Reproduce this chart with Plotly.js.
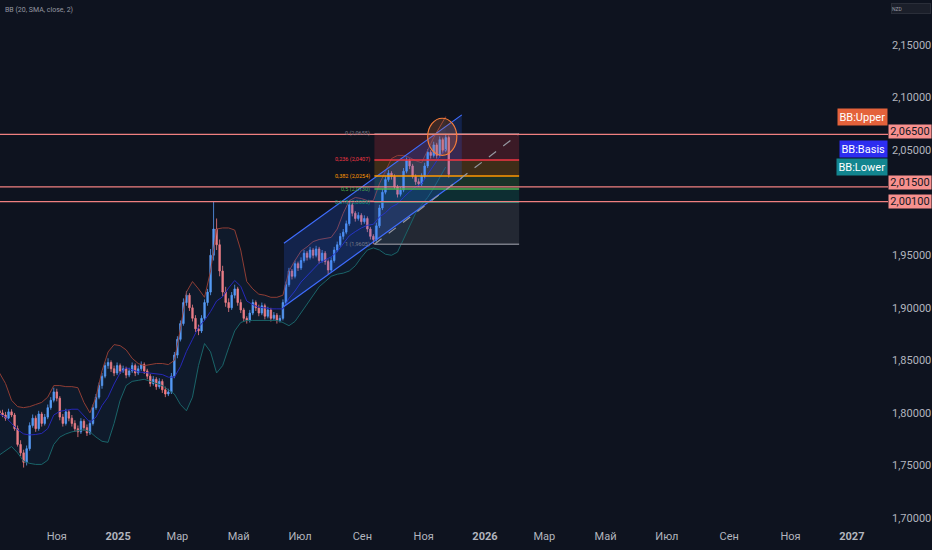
<!DOCTYPE html>
<html><head><meta charset="utf-8">
<script src="https://cdn.plot.ly/plotly-3.0.1.min.js"></script>
<style>html,body{margin:0;padding:0;background:#0e131f;}#chart{width:932px;height:550px;}</style>
</head><body><div id="chart"></div>
<script>
// ---- data (EUR/NZD style daily series, sampled every 3 days) ----
const candleStart = '2024-09-05';
const candleStepDays = 3;
const bandStepDays = 6;

const openP = [1.8020,1.8000,1.7980,1.7950,1.8010,1.7980,1.7850,1.7700,1.7620,1.7530,
1.7660,1.7880,1.7950,1.7850,1.7990,1.7900,1.7960,1.8050,1.8120,1.8200,
1.8140,1.7960,1.7900,1.8010,1.7950,1.7900,1.7850,1.7820,1.7920,1.7860,
1.7810,1.7900,1.8050,1.8150,1.8260,1.8350,1.8450,1.8480,1.8420,1.8380,
1.8450,1.8400,1.8420,1.8360,1.8400,1.8450,1.8380,1.8420,1.8460,1.8400,
1.8350,1.8280,1.8320,1.8250,1.8300,1.8220,1.8180,1.8200,1.8350,1.8550,
1.8700,1.8850,1.9050,1.9120,1.9000,1.8900,1.8800,1.8780,1.8900,1.9050,
1.9150,1.9500,1.9750,1.9600,1.9350,1.9150,1.9050,1.9000,1.9120,1.9180,
1.9050,1.8980,1.8900,1.8880,1.8950,1.9050,1.9000,1.8950,1.9020,1.8920,
1.8980,1.8900,1.8930,1.8880,1.8900,1.9050,1.9220,1.9350,1.9300,1.9420,
1.9380,1.9450,1.9520,1.9480,1.9550,1.9500,1.9560,1.9450,1.9520,1.9440,
1.9360,1.9450,1.9550,1.9600,1.9680,1.9720,1.9800,1.9980,1.9900,1.9850,
1.9880,1.9820,1.9850,1.9750,1.9680,1.9650,1.9780,1.9950,2.0100,2.0220,
2.0280,2.0250,2.0150,2.0080,2.0120,2.0300,2.0400,2.0350,2.0250,2.0200,
2.0180,2.0250,2.0350,2.0480,2.0450,2.0550,2.0450,2.0600,2.0500,2.0620];

const highP = [1.8045,1.8030,1.8010,1.8040,1.8035,1.8000,1.7880,1.7740,1.7650,1.7690,
1.7910,1.7985,1.7975,1.8020,1.8010,1.7990,1.8080,1.8150,1.8240,1.8230,
1.8160,1.7990,1.8040,1.8030,1.7980,1.7930,1.7880,1.7950,1.7940,1.7890,
1.7930,1.8080,1.8180,1.8290,1.8380,1.8480,1.8520,1.8500,1.8450,1.8480,
1.8470,1.8450,1.8440,1.8430,1.8480,1.8470,1.8450,1.8490,1.8480,1.8420,
1.8370,1.8350,1.8340,1.8330,1.8320,1.8250,1.8230,1.8380,1.8580,1.8730,
1.8880,1.9090,1.9160,1.9140,1.9030,1.8930,1.8840,1.8930,1.9080,1.9180,
1.9560,2.0010,1.9850,1.9650,1.9400,1.9200,1.9090,1.9150,1.9220,1.9200,
1.9080,1.9000,1.8920,1.8980,1.9080,1.9070,1.9030,1.9050,1.9040,1.9010,
1.9000,1.8960,1.8950,1.8930,1.9080,1.9250,1.9380,1.9370,1.9450,1.9440,
1.9480,1.9550,1.9540,1.9580,1.9570,1.9590,1.9580,1.9550,1.9540,1.9460,
1.9480,1.9580,1.9630,1.9710,1.9750,1.9830,2.0020,2.0000,1.9920,1.9910,
1.9900,1.9880,1.9870,1.9770,1.9700,1.9810,1.9980,2.0130,2.0250,2.0310,
2.0300,2.0270,2.0170,2.0150,2.0330,2.0430,2.0420,2.0370,2.0270,2.0230,
2.0280,2.0380,2.0510,2.0500,2.0580,2.0570,2.0630,2.0620,2.0655,2.0640];

const lowP = [1.7975,1.7960,1.7925,1.7940,1.7960,1.7830,1.7680,1.7590,1.7480,1.7500,
1.7640,1.7860,1.7820,1.7830,1.7870,1.7880,1.7940,1.8030,1.8100,1.8110,
1.7930,1.7870,1.7880,1.7920,1.7870,1.7820,1.7770,1.7800,1.7830,1.7780,
1.7790,1.7880,1.8030,1.8130,1.8230,1.8330,1.8420,1.8390,1.8350,1.8360,
1.8370,1.8380,1.8330,1.8340,1.8380,1.8350,1.8360,1.8400,1.8370,1.8320,
1.8250,1.8260,1.8220,1.8230,1.8190,1.8150,1.8160,1.8180,1.8330,1.8520,
1.8680,1.8830,1.9020,1.8970,1.8870,1.8770,1.8740,1.8760,1.8880,1.9020,
1.9120,1.9450,1.9550,1.9300,1.9110,1.9010,1.8960,1.8980,1.9090,1.9020,
1.8950,1.8870,1.8850,1.8860,1.8930,1.8970,1.8920,1.8930,1.8890,1.8900,
1.8870,1.8880,1.8850,1.8860,1.8880,1.9030,1.9200,1.9270,1.9280,1.9350,
1.9360,1.9430,1.9450,1.9460,1.9470,1.9480,1.9420,1.9430,1.9410,1.9320,
1.9340,1.9430,1.9530,1.9580,1.9650,1.9700,1.9780,1.9870,1.9820,1.9830,
1.9790,1.9800,1.9720,1.9650,1.9605,1.9630,1.9760,1.9930,2.0080,2.0200,
2.0220,2.0130,2.0050,2.0060,2.0100,2.0280,2.0320,2.0230,2.0170,2.0150,
2.0160,2.0230,2.0330,2.0420,2.0430,2.0420,2.0430,2.0470,2.0480,2.0240];

const closeP = [1.8000,1.7980,1.7950,1.8010,1.7980,1.7850,1.7700,1.7620,1.7530,1.7660,
1.7880,1.7950,1.7850,1.7990,1.7900,1.7960,1.8050,1.8120,1.8200,1.8140,
1.7960,1.7900,1.8010,1.7950,1.7900,1.7850,1.7820,1.7920,1.7860,1.7810,
1.7900,1.8050,1.8150,1.8260,1.8350,1.8450,1.8480,1.8420,1.8380,1.8450,
1.8400,1.8420,1.8360,1.8400,1.8450,1.8380,1.8420,1.8460,1.8400,1.8350,
1.8280,1.8320,1.8250,1.8300,1.8220,1.8180,1.8200,1.8350,1.8550,1.8700,
1.8850,1.9050,1.9120,1.9000,1.8900,1.8800,1.8780,1.8900,1.9050,1.9150,
1.9500,1.9750,1.9600,1.9350,1.9150,1.9050,1.9000,1.9120,1.9180,1.9050,
1.8980,1.8900,1.8880,1.8950,1.9050,1.9000,1.8950,1.9020,1.8920,1.8980,
1.8900,1.8930,1.8880,1.8900,1.9050,1.9220,1.9350,1.9300,1.9420,1.9380,
1.9450,1.9520,1.9480,1.9550,1.9500,1.9560,1.9450,1.9520,1.9440,1.9360,
1.9450,1.9550,1.9600,1.9680,1.9720,1.9800,1.9980,1.9900,1.9850,1.9880,
1.9820,1.9850,1.9750,1.9680,1.9650,1.9780,1.9950,2.0100,2.0220,2.0280,
2.0250,2.0150,2.0080,2.0120,2.0300,2.0400,2.0350,2.0250,2.0200,2.0180,
2.0250,2.0350,2.0480,2.0450,2.0550,2.0450,2.0600,2.0500,2.0620,2.0270];

// Bollinger Bands (20, SMA, close, 2), every 6 days
const bbUpper = [1.838,1.828,1.812,1.806,1.805,1.806,1.808,1.810,1.815,1.826,
1.826,1.825,1.825,1.824,1.810,1.800,1.815,1.840,1.858,1.865,
1.864,1.860,1.852,1.847,1.845,1.846,1.847,1.847,1.846,1.850,
1.880,1.915,1.925,1.918,1.910,1.935,1.975,1.976,1.976,1.974,
1.955,1.925,1.918,1.913,1.912,1.910,1.910,1.912,1.935,1.945,
1.954,1.958,1.963,1.965,1.966,1.967,1.975,1.990,2.002,2.005,
2.004,2.002,2.002,2.018,2.030,2.042,2.045,2.045,2.043,2.040,
2.038,2.050,2.062,2.072,2.082];
const bbBasis = [1.799,1.796,1.790,1.784,1.780,1.779,1.7795,1.7805,1.785,1.798,
1.8015,1.8025,1.8035,1.8035,1.797,1.791,1.796,1.807,1.815,1.8275,
1.838,1.843,1.841,1.839,1.8385,1.838,1.8375,1.8365,1.834,1.834,
1.844,1.8585,1.870,1.8815,1.888,1.8965,1.9065,1.9105,1.919,1.926,
1.9205,1.9065,1.903,1.9005,1.900,1.899,1.899,1.899,1.909,1.916,
1.9245,1.9305,1.9375,1.9425,1.9455,1.9485,1.9535,1.9615,1.9685,1.9725,
1.976,1.9785,1.9795,1.9865,1.9905,1.996,1.999,2.005,2.0105,2.015,
2.018,2.027,2.036,2.044,2.051];
const bbLower = [1.760,1.764,1.768,1.762,1.754,1.752,1.751,1.751,1.755,1.770,
1.777,1.780,1.782,1.783,1.784,1.782,1.777,1.773,1.772,1.790,
1.812,1.826,1.830,1.831,1.832,1.830,1.828,1.826,1.822,1.818,
1.808,1.802,1.815,1.845,1.866,1.858,1.838,1.845,1.862,1.878,
1.886,1.888,1.888,1.888,1.888,1.888,1.888,1.886,1.883,1.887,
1.895,1.903,1.912,1.920,1.925,1.930,1.932,1.933,1.935,1.940,
1.948,1.955,1.957,1.955,1.951,1.950,1.953,1.965,1.978,1.990,
1.998,2.005,2.014,2.024,2.034];

// Axis ticks
const xTickVals = ['2024-11-01','2025-01-01','2025-03-01','2025-05-01','2025-07-01','2025-09-01','2025-11-01',
                   '2026-01-01','2026-03-01','2026-05-01','2026-07-01','2026-09-01','2026-11-01','2027-01-01'];
const xTickText = ['Ноя','<b>2025</b>','Мар','Май','Июл','Сен','Ноя','<b>2026</b>','Мар','Май','Июл','Сен','Ноя','<b>2027</b>'];
const yTickVals = [1.70,1.75,1.80,1.85,1.90,1.95,2.05,2.10,2.15];
const yTickText = ['1,70000','1,75000','1,80000','1,85000','1,90000','1,95000','2,05000','2,10000','2,15000'];

// Horizontal price levels
const levelPrices = [2.065, 2.015, 2.001];
const levelTexts = ['2,06500','2,01500','2,00100'];

// Fibonacci retracement drawing
const fibDates = ['2025-09-13','2026-02-04'];
const fibLevels = ['0','0,236','0,382','0,5','0,618','1'];
const fibPrices = [2.0655, 2.0407, 2.0254, 2.0130, 2.0006, 1.9605];
const fibPriceText = ['2,0655','2,0407','2,0254','2,0130','2,0006','1,9605'];
const fibLineColors = ['#787b86','#f23645','#ff9800','#4caf50','#089981','#787b86'];
const fibFillColors = ['rgba(242,54,69,0.2)','rgba(255,152,0,0.2)','rgba(76,175,80,0.2)','rgba(8,153,129,0.2)','rgba(120,123,134,0.2)'];

// Parallel channel drawing
const channelDates = ['2025-06-15','2025-12-09'];
const channelUpper = [1.9615, 2.0836];
const channelLower = [1.9013, 2.0235];

// Ellipse drawing
const ellipseDates = ['2025-11-05','2025-12-04'];
const ellipsePrices = [2.0451, 2.0804];

// ---- build ----
function makeDates(start, step, n){
  const out=[]; const t0=Date.parse(start+'T00:00:00Z');
  for(let i=0;i<n;i++){ out.push(new Date(t0+i*step*86400000).toISOString().slice(0,10)); }
  return out;
}
const candleDates = makeDates(candleStart, candleStepDays, closeP.length);
const bandDates = makeDates(candleStart, bandStepDays, bbBasis.length);

const traces = [
  {type:'scatter', mode:'lines', x:bandDates, y:bbUpper, line:{color:'#8f3d34', width:1}, hoverinfo:'skip'},
  {type:'scatter', mode:'lines', x:bandDates, y:bbLower, line:{color:'#1a6469', width:1}, fill:'tonexty', fillcolor:'rgba(33,150,243,0.06)', hoverinfo:'skip'},
  {type:'scatter', mode:'lines', x:bandDates, y:bbBasis, line:{color:'#2628b8', width:1}, hoverinfo:'skip'},
  {type:'scatter', mode:'lines', x:[channelDates[0],channelDates[1],channelDates[1],channelDates[0],channelDates[0]],
   y:[channelUpper[0],channelUpper[1],channelLower[1],channelLower[0],channelUpper[0]],
   line:{width:0}, fill:'toself', fillcolor:'rgba(41,98,255,0.2)', hoverinfo:'skip'},
  {type:'candlestick', x:candleDates, open:openP, high:highP, low:lowP, close:closeP,
   increasing:{line:{color:'#5b9cf6', width:0.8}, fillcolor:'#5b9cf6'},
   decreasing:{line:{color:'#f77c80', width:0.8}, fillcolor:'#f77c80'},
   whiskerwidth:0, hoverinfo:'skip'},
  {type:'scatter', mode:'lines', x:channelDates, y:channelUpper, line:{color:'#3f6dff', width:1.2}, hoverinfo:'skip'},
  {type:'scatter', mode:'lines', x:channelDates, y:channelLower, line:{color:'#3f6dff', width:1.2}, hoverinfo:'skip'}
];

const shapes = [];
for(let k=0;k<fibFillColors.length;k++){
  shapes.push({type:'rect', xref:'x', yref:'y', x0:fibDates[0], x1:fibDates[1], y0:fibPrices[k+1], y1:fibPrices[k],
    fillcolor:fibFillColors[k], line:{width:0}, layer:'below'});
}
for(let k=0;k<fibPrices.length;k++){
  shapes.push({type:'line', xref:'x', yref:'y', x0:fibDates[0], x1:fibDates[1], y0:fibPrices[k], y1:fibPrices[k],
    line:{color:fibLineColors[k], width:1.5}});
}
shapes.push({type:'line', xref:'x', yref:'y', x0:fibDates[0], x1:fibDates[1], y0:fibPrices[5], y1:fibPrices[0],
  line:{color:'#9598a1', width:1.2, dash:'dash'}});
for(const p of levelPrices){
  shapes.push({type:'line', xref:'paper', yref:'y', x0:0, x1:1, y0:p, y1:p, line:{color:'#f08080', width:1.2}});
}
shapes.push({type:'circle', xref:'x', yref:'y', x0:ellipseDates[0], x1:ellipseDates[1], y0:ellipsePrices[0], y1:ellipsePrices[1],
  line:{color:'#f57c3a', width:1.2}, fillcolor:'rgba(245,124,58,0.2)'});

const annotations = [];
for(let k=0;k<fibPrices.length;k++){
  annotations.push({xref:'x', yref:'y', x:fibDates[0], y:fibPrices[k], xanchor:'right', yanchor:'middle', xshift:-2,
    text:fibLevels[k]+' ('+fibPriceText[k]+')', showarrow:false, font:{size:5.5, color:fibLineColors[k]}});
}
const levelShift = [3, 4, 0];
for(let k=0;k<levelPrices.length;k++){
  annotations.push({xref:'paper', yref:'y', x:1, y:levelPrices[k], xanchor:'left', yanchor:'middle', yshift:levelShift[k],
    text:levelTexts[k], showarrow:false, bgcolor:'#f7908e', width:42, height:13, borderpad:0,
    font:{size:11, color:'#131722'}});
}
const bbNames = ['BB:Upper','BB:Basis','BB:Lower'];
const bbColors = ['#e4623b','#2d2df0','#12858f'];
const bbLast = [bbUpper[bbUpper.length-1], bbBasis[bbBasis.length-1], bbLower[bbLower.length-1]];
for(let k=0;k<3;k++){
  annotations.push({xref:'paper', yref:'y', x:1, y:bbLast[k], xanchor:'right', yanchor:'middle',
    text:bbNames[k], showarrow:false, bgcolor:bbColors[k], borderpad:1.5, font:{size:11, color:'#ffffff'}});
}
annotations.push({xref:'paper', yref:'paper', x:0, y:1, xanchor:'left', yanchor:'top', xshift:3, yshift:-4,
  text:'BB (20, SMA, close, 2)', showarrow:false, font:{size:7, color:'#9598a1'}});
annotations.push({xref:'paper', yref:'paper', x:1, y:1, xanchor:'left', yanchor:'top', xshift:3, yshift:-3,
  text:'NZD', showarrow:false, align:'left', width:38, height:9, bgcolor:'#1b1f2a', bordercolor:'#2a2e39', borderwidth:1,
  borderpad:0, font:{size:5, color:'#9598a1'}});

const layout = {
  width:932, height:550,
  margin:{l:0, r:44, t:0, b:28, pad:0},
  paper_bgcolor:'#0e131f', plot_bgcolor:'#0e131f',
  font:{family:'Roboto, "Noto Sans", sans-serif', color:'#b2b5be', size:11},
  showlegend:false, hovermode:false, dragmode:false,
  xaxis:{type:'date', range:['2024-09-05 12:00','2027-02-06'], showgrid:false, zeroline:false, showline:false,
    tickvals:xTickVals, ticktext:xTickText, ticks:'', ticklabelstandoff:6, rangeslider:{visible:false}, fixedrange:true},
  yaxis:{side:'right', range:[1.6962, 2.1929], showgrid:false, zeroline:false, showline:false,
    tickvals:yTickVals, ticktext:yTickText, ticks:'', ticklabelstandoff:3, fixedrange:true},
  shapes:shapes, annotations:annotations
};

Plotly.newPlot('chart', traces, layout, {displayModeBar:false, staticPlot:true});
</script>
</body></html>
